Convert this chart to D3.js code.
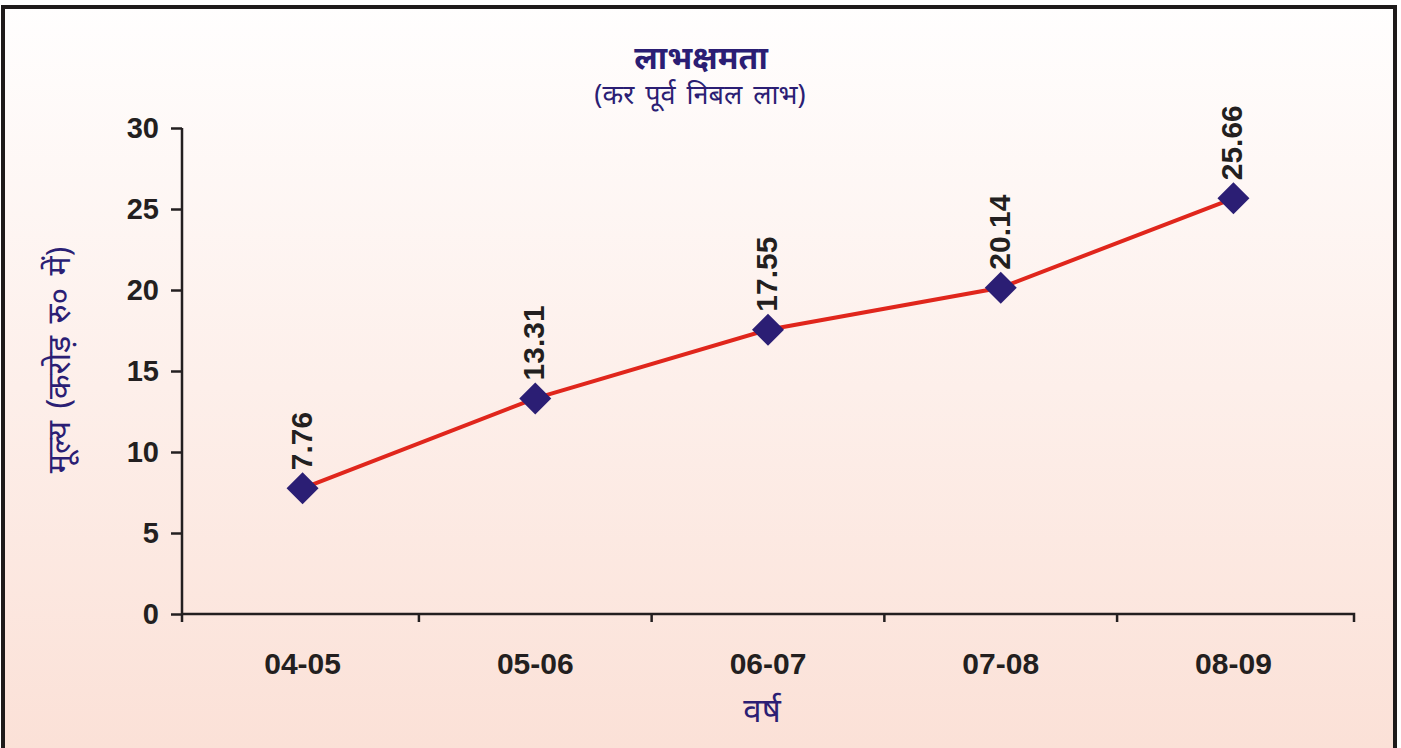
<!DOCTYPE html>
<html><head><meta charset="utf-8">
<script src="https://cdn.jsdelivr.net/npm/d3@7/dist/d3.min.js"></script>
<style>html,body{margin:0;padding:0;background:#fff;overflow:hidden}</style>
</head><body>
<svg id="c" width="1401" height="748"></svg>
<script>
const categories = ["04-05","05-06","06-07","07-08","08-09"];
const values = [7.76, 13.31, 17.55, 20.14, 25.66];
const yTicks = [0,5,10,15,20,25,30];
const title = "लाभक्षमता";
const subtitle = "(कर पूर्व निबल लाभ)";
const xTitle = "वर्ष";
const yTitle = "मूल्य (करोड़ रु० में)";

const svg = d3.select("#c");
const defs = svg.append("defs");
const g = defs.append("linearGradient").attr("id","bg").attr("x1",0).attr("y1",0).attr("x2",0).attr("y2",1);
g.append("stop").attr("offset","0%").attr("stop-color","#fffefe");
g.append("stop").attr("offset","100%").attr("stop-color","#fbe0d6");

svg.append("rect").attr("x",3).attr("y",7).attr("width",1392).attr("height",760)
  .attr("fill","url(#bg)").attr("stroke","#1e1a1a").attr("stroke-width",4);

const devFont = "'Noto Sans','Noto Sans Devanagari','Lohit Devanagari','FreeSans',sans-serif";
const numFont = "'Liberation Sans',Arial,sans-serif";
const navy = "#2b1e74";
const dark = "#231f20";

const x = d3.scaleBand().domain(categories).range([182,1354]).paddingOuter(0.018);
const y = d3.scaleLinear().domain([0,30]).range([614,128]);

// axes
const yAxis = svg.append("g").attr("transform","translate(182,0)")
  .call(d3.axisLeft(y).tickValues(yTicks).tickSize(11).tickPadding(12));
yAxis.select(".domain").attr("d",`M0,${y(30)}V${y(0)+8}`);
const xAxis = svg.append("g").attr("transform",`translate(0,${y(0)})`)
  .call(d3.axisBottom(x).tickSize(0).tickPadding(39));
xAxis.select(".domain").attr("d","M182,0H1354V8");
// category boundary ticks
xAxis.selectAll(".bt").data(categories.slice(1)).enter().append("line")
  .attr("class","bt").attr("x1",d=>x(d)).attr("x2",d=>x(d)).attr("y1",0).attr("y2",8)
  .attr("stroke",dark).attr("stroke-width",2.5);
[yAxis,xAxis].forEach(a=>{
  a.selectAll(".domain").attr("stroke",dark).attr("stroke-width",2.5).attr("fill","none");
  a.selectAll(".tick line").attr("stroke",dark).attr("stroke-width",2.5);
  a.selectAll("text").attr("fill",dark).attr("font-family",numFont).attr("font-weight","bold");
});
yAxis.selectAll(".tick text").attr("font-size",29);
xAxis.selectAll(".tick text").attr("font-size",30).attr("dy","0.71em");

// line
const cx = d => x(d) + x.bandwidth()/2;
svg.append("path").datum(values)
  .attr("d", d3.line().x((d,i)=>cx(categories[i])).y(d=>y(d)))
  .attr("fill","none").attr("stroke","#e0261c").attr("stroke-width",4);

// markers
svg.selectAll(".mk").data(values).enter().append("path").attr("class","mk")
  .attr("transform",(d,i)=>`translate(${cx(categories[i])},${y(d)})`)
  .attr("d","M0,-16L16,0L0,16L-16,0Z").attr("fill",navy);

// value labels
svg.selectAll(".vl").data(values).enter().append("text").attr("class","vl")
  .attr("transform",(d,i)=>`translate(${cx(categories[i])+9},${y(d)-18}) rotate(-90)`)
  .attr("font-family",numFont).attr("font-weight","bold")
  .attr("font-size",30).attr("fill",dark).text(d=>d.toFixed(2));

// titles
svg.append("text").attr("x",701).attr("y",69).attr("text-anchor","middle")
  .attr("font-family",devFont).attr("font-weight","bold").attr("font-size",32).attr("fill",navy).text(title);
svg.append("text").attr("x",700).attr("y",104).attr("text-anchor","middle")
  .attr("font-family",devFont).attr("font-size",27).attr("fill",navy).attr("word-spacing","4").text(subtitle);
svg.append("text").attr("x",762).attr("y",722).attr("text-anchor","middle")
  .attr("font-family",devFont).attr("font-size",33).attr("fill",navy).text(xTitle);
svg.append("text").attr("transform","translate(70,360) rotate(-90)").attr("text-anchor","middle")
  .attr("font-family",devFont).attr("font-size",32).attr("fill",navy).attr("word-spacing","4").text(yTitle);
</script>
</body></html>
